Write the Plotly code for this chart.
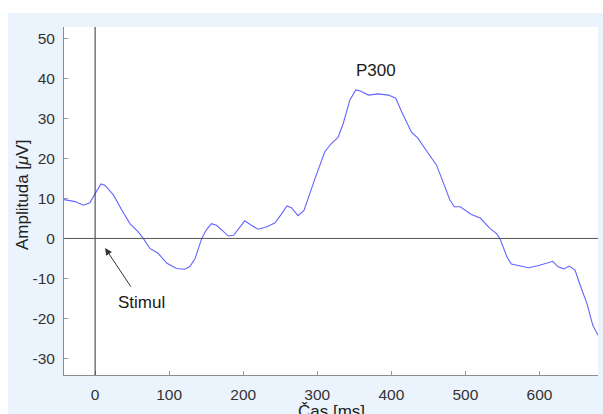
import plotly.graph_objects as go

time_ms = [-42, -27, -16, -7, 0, 8, 13, 25, 36, 47, 58, 65, 74, 85, 97, 110, 121, 128, 135, 140,
           144, 150, 157, 164, 173, 180, 187, 196, 202, 211, 220, 232, 243, 252, 259, 265, 274, 282,
           290, 297, 310, 319, 328, 335, 344, 352, 358, 369, 382, 396, 406, 414, 427, 436, 450, 461,
           470, 479, 485, 493, 508, 520, 533, 542, 547, 556, 562, 574, 585, 598, 610, 618, 625, 633,
           640, 648, 654, 664, 672, 679]
amplitude_uv = [9.7, 9.2, 8.3, 8.9, 11.2, 13.6, 13.3, 10.8, 7.1, 3.7, 1.7, 0.0, -2.5, -3.7, -6.2, -7.5,
                -7.7, -7.0, -5.0, -2.0, 0.0, 2.1, 3.7, 3.3, 1.8, 0.6, 0.8, 3.1, 4.4, 3.3, 2.3, 2.9, 3.9,
                6.2, 8.1, 7.7, 5.7, 7.0, 11.0, 15.0, 21.6, 23.7, 25.2, 28.7, 34.6, 37.1, 36.8, 35.8,
                36.1, 35.8, 35.0, 31.6, 26.6, 25.0, 21.2, 18.3, 14.0, 9.6, 7.9, 7.9, 6.0, 5.1, 2.5, 1.2,
                -0.2, -4.6, -6.4, -6.9, -7.3, -6.8, -6.2, -5.7, -7.1, -7.6, -6.9, -7.9, -11.2, -16.2,
                -21.7, -24.2]

x_ticks = [0, 100, 200, 300, 400, 500, 600]
x_tick_labels = ["0", "100", "200", "300", "400", "500", "600"]
y_ticks = [-30, -20, -10, 0, 10, 20, 30, 40, 50]
y_tick_labels = ["-30", "-20", "-10", "0", "10", "20", "30", "40", "50"]
x_range = [-42, 679]
y_range = [-34.1, 52.8]
x_title = "Čas [ms]"
y_title = "Amplituda [<i>μ</i>V]"

FONT = "Liberation Sans, Arial, sans-serif"

fig = go.Figure()
fig.add_trace(go.Scatter(x=time_ms, y=amplitude_uv, mode="lines",
                         line=dict(color="rgb(100,100,255)", width=1.1),
                         hoverinfo="skip", showlegend=False))

W, H = 603, 414
ml, mr, mt, mb = 64, 5, 27, 39
pw, ph = W - ml - mr, H - mt - mb

def px_x(p):
    return (p - ml) / pw

def px_y(p):
    return (H - mb - p) / ph

shapes = [
    dict(type="rect", xref="paper", yref="paper", x0=px_x(0), x1=px_x(W), y0=px_y(13), y1=px_y(0),
         fillcolor="white", line=dict(width=0), layer="below"),
    dict(type="rect", xref="paper", yref="paper", x0=px_x(0), x1=px_x(8), y0=px_y(H), y1=px_y(0),
         fillcolor="white", line=dict(width=0), layer="below"),
    dict(type="line", xref="x", yref="paper", x0=0, x1=0, y0=0, y1=1,
         line=dict(color="#333333", width=1)),
    dict(type="line", xref="paper", yref="y", x0=0, x1=1, y0=0, y1=0,
         line=dict(color="#555555", width=1)),
]

annotations = [
    dict(x=13.5, y=-2.4, xref="x", yref="y", text="", showarrow=True,
         ax=26.7, ay=40, arrowhead=2, arrowsize=1.4, arrowwidth=1, arrowcolor="#333333"),
    dict(x=63, y=-16, xref="x", yref="y", text="Stimul", showarrow=False,
         font=dict(family=FONT, size=17, color="#1a1a1a")),
    dict(x=379, y=42, xref="x", yref="y", text="P300", showarrow=False,
         font=dict(family=FONT, size=17, color="#1a1a1a")),
    # axis titles
    dict(x=0.5, y=px_y(400), xref="paper", yref="paper", text=x_title, showarrow=False,
         xanchor="center", yanchor="top",
         font=dict(family=FONT, size=17, color="#222222")),
    dict(x=px_x(22), y=px_y(195), xref="paper", yref="paper", text=y_title, showarrow=False,
         textangle=-90, xanchor="center", yanchor="middle",
         font=dict(family=FONT, size=17, color="#222222")),
]

fig.update_layout(
    width=W, height=H,
    margin=dict(l=ml, r=mr, t=mt, b=mb, pad=0, autoexpand=False),
    paper_bgcolor="#EBF3FC",
    plot_bgcolor="white",
    shapes=shapes,
    annotations=annotations,
    font=dict(family=FONT, size=15, color="#333333"),
    xaxis=dict(range=x_range, tickvals=x_ticks, ticktext=x_tick_labels, ticks="inside", ticklen=4,
               tickcolor="#999999", showline=True, linecolor="#8c8c8c", linewidth=1,
               showgrid=False, zeroline=False, mirror=False, ticklabelstandoff=5,
               automargin=False,
               tickfont=dict(family=FONT, size=15.5, color="#333333")),
    yaxis=dict(range=y_range, tickvals=y_ticks, ticktext=y_tick_labels, ticks="inside", ticklen=4,
               tickcolor="#999999", showline=True, linecolor="#8c8c8c", linewidth=1,
               showgrid=False, zeroline=False, mirror=False, ticklabelstandoff=5,
               automargin=False,
               tickfont=dict(family=FONT, size=15.5, color="#333333")),
)

fig.write_html("out.html")
